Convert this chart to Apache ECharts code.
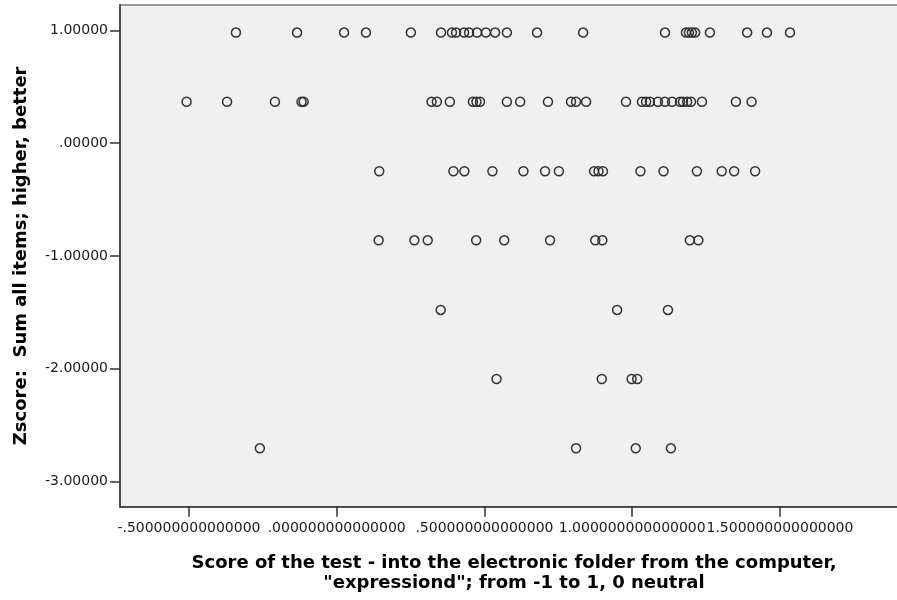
<!DOCTYPE html>
<html>
<head>
<meta charset="utf-8">
<script src="https://cdn.jsdelivr.net/npm/echarts@6/dist/echarts.min.js"></script>
<style>html,body{margin:0;padding:0;background:#fff;}#c{width:897px;height:600px;}</style>
</head>
<body>
<div id="c"></div>
<script>
// Y levels of the horizontal bands of points (Zscore)
const rowLevels = [0.980, 0.367, -0.249, -0.861, -1.478, -2.090, -2.704];
// X values (test score) of points in each band
const row1X = [-0.341, -0.134, 0.025, 0.099, 0.251, 0.353, 0.390, 0.404, 0.431, 0.448, 0.475, 0.505, 0.536, 0.576, 0.678, 0.834, 1.111, 1.182, 1.192, 1.202, 1.213, 1.263, 1.389, 1.456, 1.534];
const row2X = [-0.508, -0.371, -0.209, -0.119, -0.112, 0.321, 0.339, 0.383, 0.461, 0.473, 0.485, 0.576, 0.621, 0.715, 0.793, 0.810, 0.844, 0.979, 1.033, 1.047, 1.060, 1.087, 1.111, 1.135, 1.162, 1.172, 1.186, 1.199, 1.236, 1.351, 1.404];
const row3X = [0.144, 0.395, 0.432, 0.527, 0.632, 0.705, 0.752, 0.871, 0.886, 0.901, 1.028, 1.106, 1.219, 1.303, 1.345, 1.416];
const row4X = [0.142, 0.263, 0.308, 0.472, 0.567, 0.722, 0.875, 0.899, 1.195, 1.224];
const row5X = [0.352, 0.949, 1.121];
const row6X = [0.541, 0.897, 0.998, 1.017];
const row7X = [-0.260, 0.810, 1.012, 1.131];

const xTickValues = [-0.5, 0, 0.5, 1, 1.5];
const xTickLabels = ["-.500000000000000", ".000000000000000", ".500000000000000", "1.000000000000000", "1.500000000000000"];
const yTickValues = [-3, -2, -1, 0, 1];
const yTickLabels = ["-3.00000", "-2.00000", "-1.00000", ".00000", "1.00000"];

const xTitle = "Score of the test - into the electronic folder from the computer,\n\"expressiond\"; from -1 to 1, 0 neutral";
const yTitle = "Zscore:  Sum all items; higher, better";

const rows = [row1X, row2X, row3X, row4X, row5X, row6X, row7X];
const points = [];
rows.forEach((xs, i) => xs.forEach(x => points.push([x, rowLevels[i]])));

const labelFont = { fontFamily: "DejaVu Sans", fontSize: 14, color: "#1a1a1a" };
const chart = echarts.init(document.getElementById('c'), null, { renderer: 'canvas' });
chart.setOption({
  animation: false,
  backgroundColor: '#ffffff',
  grid: {
    left: 120, top: 5, width: 785, height: 501.7,
    outerBoundsMode: 'none', containLabel: false,
    show: true, backgroundColor: '#f0f0f0', borderColor: '#777', borderWidth: 1.5
  },
  xAxis: {
    type: 'value', min: -0.7333, max: 1.9232,
    splitLine: { show: false },
    axisLine: { show: true, onZero: false, lineStyle: { color: '#333', width: 1.5 } },
    axisTick: { show: true, length: 10, lineStyle: { color: '#333', width: 1.5 }, customValues: xTickValues },
    axisLabel: Object.assign({ margin: 15, hideOverlap: false, customValues: xTickValues,
      formatter: v => { const i = xTickValues.findIndex(t => Math.abs(t - v) < 1e-9); return i >= 0 ? xTickLabels[i] : ''; } }, labelFont),
    name: xTitle, nameLocation: 'middle', nameGap: 47,
    nameTextStyle: { fontFamily: "DejaVu Sans", fontWeight: 'bold', fontSize: 18, color: '#000', lineHeight: 20, padding: [0, 0, 0, 3] }
  },
  yAxis: {
    type: 'value', min: -3.2215, max: 1.2242,
    splitLine: { show: false },
    axisLine: { show: true, onZero: false, lineStyle: { color: '#333', width: 1.5 } },
    axisTick: { show: true, length: 10, lineStyle: { color: '#333', width: 1.5 }, customValues: yTickValues },
    axisLabel: Object.assign({ margin: 12, customValues: yTickValues,
      formatter: v => { const i = yTickValues.findIndex(t => Math.abs(t - v) < 1e-9); return i >= 0 ? yTickLabels[i] : ''; } }, labelFont),
    name: yTitle, nameLocation: 'middle', nameGap: 90,
    nameTextStyle: { fontFamily: "DejaVu Sans", fontWeight: 'bold', fontSize: 18, color: '#000' }
  },
  series: [{
    type: 'scatter',
    data: points,
    symbol: 'circle',
    symbolSize: 9,
    itemStyle: { color: 'rgba(0,0,0,0)', borderColor: '#333', borderWidth: 1.5, opacity: 1 },
    emphasis: { disabled: true }
  }]
});
</script>
</body>
</html>
